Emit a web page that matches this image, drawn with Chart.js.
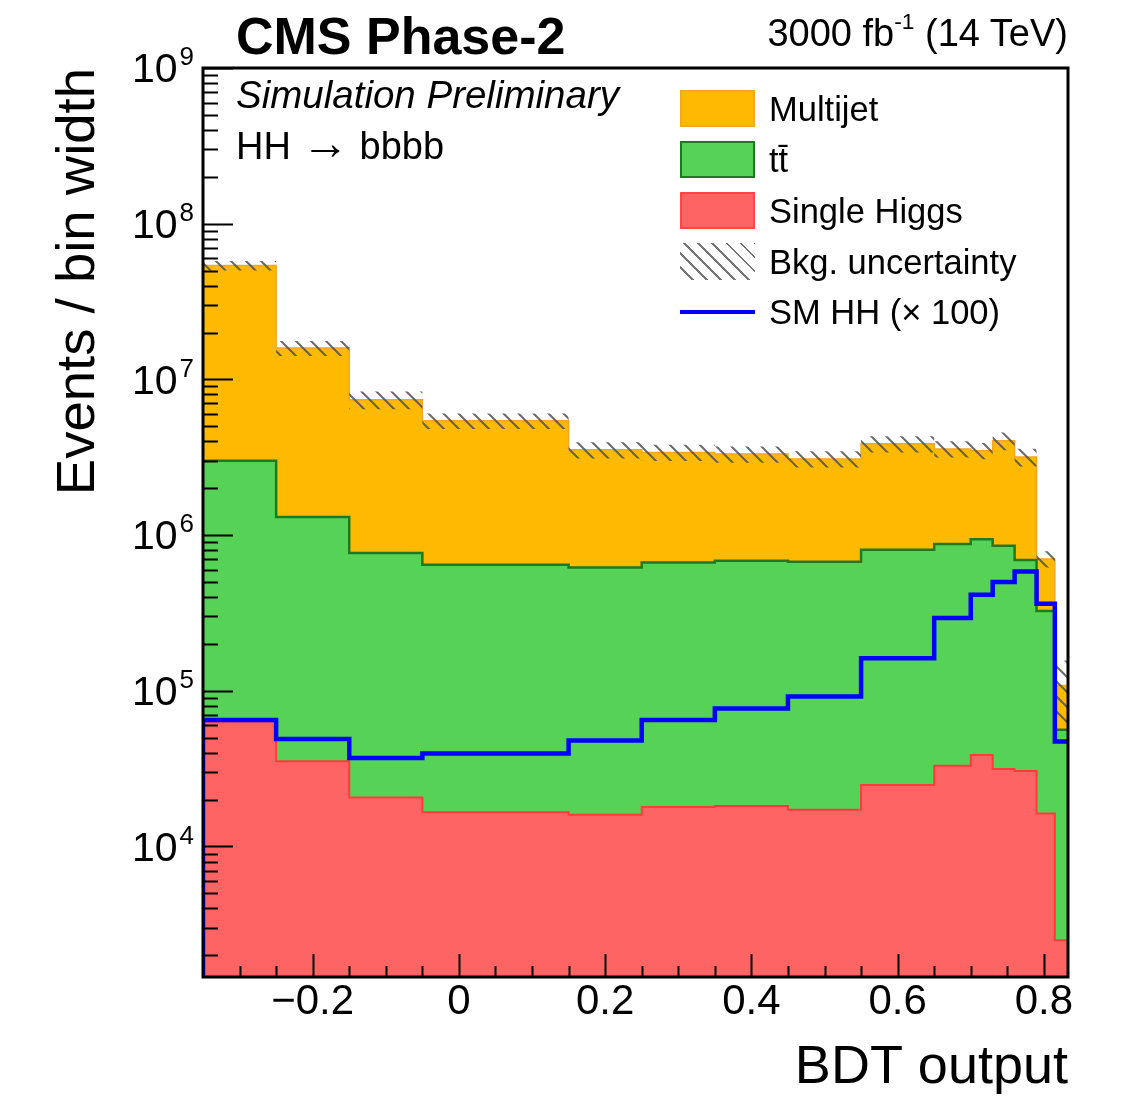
<!DOCTYPE html>
<html>
<head>
<meta charset="utf-8">
<title>HH to bbbb BDT output</title>
<script src="https://cdn.jsdelivr.net/npm/chart.js@4.4.0/dist/chart.umd.min.js"></script>
<style>
  body { margin: 0; background: #fff; }
  #wrap { position: relative; width: 1129px; height: 1098px; font-family: "Liberation Sans", Arial, sans-serif; }
  #wrap canvas { position: absolute; left: 0; top: 0; }
  .t { position: absolute; white-space: nowrap; color: #000; line-height: 1; }
  .sw { position: absolute; left: 680px; width: 75px; height: 37px; box-sizing: border-box; }
  sup { font-size: 0.6em; line-height: 0; vertical-align: 0.75em; }
</style>
</head>
<body>
<div id="wrap">
  <canvas id="chart" width="1129" height="1098"></canvas>

  <div class="t" style="left:236px; top:10px; font-size:52px; font-weight:bold;">CMS Phase-2</div>
  <div class="t" style="right:61px; top:14px; font-size:38px;">3000 fb<sup>-1</sup> (14 TeV)</div>
  <div class="t" style="left:236px; top:76px; font-size:38.5px; font-style:italic;">Simulation Preliminary</div>
  <div class="t" style="left:236px; top:127px; font-size:38px;">HH <span style="font-size:1.25em; line-height:0;">&rarr;</span> bbbb</div>

  <!-- legend -->
  <div class="sw" style="top:90px; background:#FDBA00; border:2px solid #F5A623;"></div>
  <div class="sw" style="top:141px; background:#56D356; border:2px solid #1E7A1E;"></div>
  <div class="sw" style="top:192px; background:#FF6464; border:2px solid #FF4545;"></div>
  <div class="sw" style="top:243px; background:repeating-linear-gradient(45deg, transparent 0 8px, #777 8px 10px);"></div>
  <div class="sw" style="top:310px; height:4px; background:#0000FF;"></div>
  <div class="t" style="left:769px; top:92px; font-size:34.5px;">Multijet</div>
  <div class="t" style="left:769px; top:143px; font-size:34.5px;">tt&#772;</div>
  <div class="t" style="left:769px; top:194px; font-size:34.5px;">Single Higgs</div>
  <div class="t" style="left:769px; top:245px; font-size:34.5px;">Bkg. uncertainty</div>
  <div class="t" style="left:769px; top:295px; font-size:34.5px;">SM HH (&times; 100)</div>
</div>

<script>
// ---- data ----
const binEdges    = [-0.35, -0.25, -0.15, -0.05, 0.15, 0.25, 0.35, 0.45, 0.55, 0.65, 0.70, 0.73, 0.76, 0.79, 0.815, 0.833];
const multijet    = [5.08e7, 1.46e7, 6.63e6, 4.78e6, 2.91e6, 2.73e6, 2.63e6, 2.41e6, 3.05e6, 2.70e6, 2.54e6, 3.18e6, 2.48e6, 3.77e5, 5.18e4];
const ttbar       = [2.94e6, 1.27e6, 7.45e5, 6.27e5, 6.03e5, 6.49e5, 6.66e5, 6.57e5, 7.80e5, 8.42e5, 9.03e5, 8.22e5, 6.62e5, 3.09e5, 5.37e4];
const singleHiggs = [6.35e4, 3.52e4, 2.06e4, 1.66e4, 1.60e4, 1.79e4, 1.82e4, 1.72e4, 2.48e4, 3.30e4, 3.86e4, 3.14e4, 3.05e4, 1.63e4, 2.5e3];
const smHHx100    = [6.5e4, 4.9e4, 3.7e4, 3.95e4, 4.8e4, 6.5e4, 7.7e4, 9.2e4, 1.62e5, 2.93e5, 4.14e5, 4.99e5, 5.84e5, 3.62e5, 4.72e4];
const bkgUncRel   = [0.07, 0.11, 0.13, 0.115, 0.12, 0.12, 0.12, 0.12, 0.12, 0.12, 0.12, 0.13, 0.13, 0.12, 0.45];
const xTickValues = [-0.2, 0, 0.2, 0.4, 0.6, 0.8];
const yDecades    = [4, 5, 6, 7, 8, 9];
const Y_MIN = 1450, Y_MAX = 1e9;

const FONT = '"Liberation Sans", Arial, sans-serif';

// histogram -> step points (value i holds from edge i to edge i+1)
function histPoints(vals) {
  return binEdges.map((x, i) => ({ x, y: vals[Math.min(i, vals.length - 1)] }));
}

// stack: single Higgs at the bottom, then ttbar, then multijet
const shTop = singleHiggs.slice();
const ttTop = ttbar.map((v, i) => v + shTop[i]);
const mjTop = multijet.map((v, i) => v + ttTop[i]);
const uncUp = mjTop.map((v, i) => v * (1 + bkgUncRel[i]));
const uncDn = mjTop.map((v, i) => v * (1 - bkgUncRel[i]));

function hatchPattern() {
  const s = 15;
  const c = document.createElement('canvas');
  c.width = s; c.height = s;
  const g = c.getContext('2d');
  g.strokeStyle = 'rgba(80,80,80,0.85)';
  g.lineWidth = 2;
  g.beginPath();
  g.moveTo(0, 0); g.lineTo(s, s);
  g.moveTo(-2, s - 2); g.lineTo(2, s + 2);
  g.moveTo(s - 2, -2); g.lineTo(s + 2, 2);
  g.stroke();
  return g.createPattern(c, 'repeat');
}

// ROOT-like frame: inward ticks, 10^n labels
const hepAxes = {
  id: 'hepAxes',
  afterDatasetsDraw(chart) {
    const { ctx, chartArea: a, scales: { x, y } } = chart;
    ctx.save();
    ctx.strokeStyle = '#000';
    ctx.lineWidth = 2;
    ctx.beginPath();
    // x ticks every 0.05, major every 0.2
    for (let k = Math.ceil(x.min / 0.05); k * 0.05 <= x.max + 1e-9; k++) {
      const px = Math.round(x.getPixelForValue(k * 0.05)) + 0.5;
      const len = (k % 4 === 0) ? 23 : 11;
      ctx.moveTo(px, a.bottom); ctx.lineTo(px, a.bottom - len);
    }
    // y ticks on the left
    for (let e = 3; e <= 9; e++) {
      for (let m = 1; m <= 9; m++) {
        const v = m * Math.pow(10, e);
        if (v < y.min || v > y.max) continue;
        const py = Math.round(y.getPixelForValue(v)) + 0.5;
        const len = (m === 1) ? 30 : 15;
        ctx.moveTo(a.left, py); ctx.lineTo(a.left + len, py);
      }
    }
    ctx.stroke();
    ctx.lineWidth = 3;
    ctx.strokeRect(a.left, a.top, a.right - a.left, a.bottom - a.top);

    ctx.fillStyle = '#000';
    ctx.textAlign = 'right';
    ctx.textBaseline = 'middle';
    for (const d of yDecades) {
      const py = y.getPixelForValue(Math.pow(10, d));
      ctx.font = `26px ${FONT}`;
      const sw = ctx.measureText(String(d)).width;
      ctx.fillText(String(d), 194, py - 10);
      ctx.font = `41px ${FONT}`;
      ctx.fillText('10', 194 - sw - 2, py + 3);
    }
    ctx.restore();
  }
};

const stepLine = { stepped: true, pointRadius: 0, tension: 0 };

new Chart(document.getElementById('chart'), {
  type: 'line',
  data: {
    datasets: [
      { ...stepLine, label: 'SM HH (x 100)', order: 0,
        data: [{ x: binEdges[0], y: Y_MIN }, ...histPoints(smHHx100)],
        borderColor: '#0000FF', borderWidth: 4.5, fill: false },
      { ...stepLine, label: 'Bkg. uncertainty', order: 1,
        data: histPoints(uncUp), borderWidth: 0, borderColor: 'rgba(0,0,0,0)',
        backgroundColor: hatchPattern(), fill: '+1' },
      { ...stepLine, label: 'unc-lo', order: 1,
        data: histPoints(uncDn), borderWidth: 0, borderColor: 'rgba(0,0,0,0)', fill: false },
      { ...stepLine, label: 'Single Higgs', order: 3,
        data: histPoints(shTop), borderColor: '#FF3B3B', borderWidth: 2,
        backgroundColor: '#FF6464', fill: 'start' },
      { ...stepLine, label: 'ttbar', order: 4,
        data: histPoints(ttTop), borderColor: '#1E7A1E', borderWidth: 2.5,
        backgroundColor: '#56D356', fill: 'start' },
      { ...stepLine, label: 'Multijet', order: 5,
        data: histPoints(mjTop), borderColor: '#F5A623', borderWidth: 1.5,
        backgroundColor: '#FDBA00', fill: 'start' }
    ]
  },
  options: {
    responsive: false,
    animation: false,
    devicePixelRatio: 1,
    layout: { padding: { left: 0, right: 61, top: 68, bottom: 0 } },
    plugins: { legend: { display: false }, tooltip: { enabled: false } },
    scales: {
      x: {
        type: 'linear',
        min: binEdges[0],
        max: binEdges[binEdges.length - 1],
        afterBuildTicks: s => { s.ticks = xTickValues.map(v => ({ value: v })); },
        afterFit: s => { s.height = 121; },
        grid: { display: false, drawTicks: false },
        border: { display: false },
        ticks: {
          autoSkip: false, maxRotation: 0, padding: 0, color: '#000',
          font: { size: 42, family: FONT },
          callback: v => v === 0 ? '0' : (v < 0 ? '\u2212' : '') + Math.abs(v).toFixed(1)
        },
        title: {
          display: true, text: 'BDT output', align: 'end', color: '#000',
          font: { size: 54, family: FONT, lineHeight: 1.1 }, padding: { top: 0, bottom: 0 }
        }
      },
      y: {
        type: 'logarithmic',
        min: Y_MIN,
        max: Y_MAX,
        afterFit: s => { s.width = 203; },
        grid: { display: false },
        border: { display: false },
        ticks: { display: false },
        title: {
          display: true, text: 'Events / bin width', align: 'end', color: '#000',
          font: { size: 54.5, family: FONT, lineHeight: 1.1 }, padding: { top: 49, bottom: 0 }
        }
      }
    }
  },
  plugins: [hepAxes]
});
</script>
</body>
</html>
